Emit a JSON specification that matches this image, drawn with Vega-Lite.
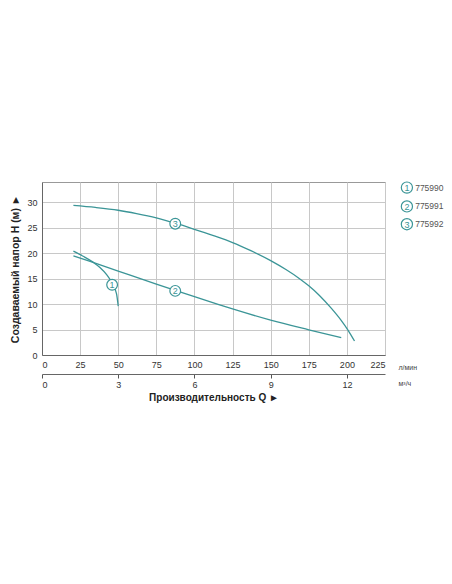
{
  "$schema": "https://vega.github.io/schema/vega-lite/v6.json",
  "padding": {"left": 10, "top": 179, "right": 0, "bottom": 0},
  "background": "white",
  "datasets": {
    "curves": [
      {"pump": "1", "q": 20.6, "H": 20.4},
      {"pump": "1", "q": 27, "H": 19.4},
      {"pump": "1", "q": 33.7, "H": 18.2},
      {"pump": "1", "q": 38, "H": 17.2},
      {"pump": "1", "q": 42.4, "H": 15.8},
      {"pump": "1", "q": 45.7, "H": 14.3},
      {"pump": "1", "q": 48.9, "H": 12.0},
      {"pump": "1", "q": 50, "H": 9.6},
      {"pump": "2", "q": 20.6, "H": 19.5},
      {"pump": "2", "q": 50, "H": 16.5},
      {"pump": "2", "q": 75, "H": 13.95},
      {"pump": "2", "q": 87.4, "H": 12.7},
      {"pump": "2", "q": 100, "H": 11.45},
      {"pump": "2", "q": 116, "H": 9.9},
      {"pump": "2", "q": 125, "H": 9.05},
      {"pump": "2", "q": 150, "H": 6.85},
      {"pump": "2", "q": 175, "H": 4.95},
      {"pump": "2", "q": 196.3, "H": 3.4},
      {"pump": "3", "q": 20.6, "H": 29.4},
      {"pump": "3", "q": 35, "H": 29.0},
      {"pump": "3", "q": 50, "H": 28.45},
      {"pump": "3", "q": 62, "H": 27.8},
      {"pump": "3", "q": 75, "H": 26.95},
      {"pump": "3", "q": 87.4, "H": 25.9},
      {"pump": "3", "q": 100, "H": 24.7},
      {"pump": "3", "q": 112, "H": 23.5},
      {"pump": "3", "q": 125, "H": 22.1},
      {"pump": "3", "q": 137, "H": 20.5},
      {"pump": "3", "q": 150, "H": 18.55},
      {"pump": "3", "q": 160, "H": 16.8},
      {"pump": "3", "q": 168.5, "H": 15.1},
      {"pump": "3", "q": 175, "H": 13.6},
      {"pump": "3", "q": 182, "H": 11.7},
      {"pump": "3", "q": 190, "H": 9.1},
      {"pump": "3", "q": 196, "H": 6.9},
      {"pump": "3", "q": 200.7, "H": 4.9},
      {"pump": "3", "q": 205, "H": 2.75}
    ],
    "tags": [
      {"pump": "1", "q": 46, "H": 13.8},
      {"pump": "2", "q": 87.4, "H": 12.6},
      {"pump": "3", "q": 87.4, "H": 25.8}
    ],
    "legend": [
      {"pump": "1", "code": "775990", "H": 32.9},
      {"pump": "2", "code": "775991", "H": 29.2},
      {"pump": "3", "code": "775992", "H": 25.7}
    ]
  },
  "bounds": "flush",
  "spacing": 12,
  "hconcat": [
    {
      "width": 343,
      "height": 173,
      "encoding": {
        "y": {
          "field": "H", "type": "quantitative",
          "scale": {"domain": [0, 34], "nice": false},
          "axis": {
            "values": [0, 5, 10, 15, 20, 25, 30],
            "grid": true, "gridColor": "#c8c8c8", "ticks": false,
            "domainColor": "#666", "labelPadding": 5, "labelOverlap": false,
            "title": "Создаваемый напор H (м) ►",
            "titleFontSize": 10.5, "titleFontWeight": "bold", "titleColor": "#222",
            "titlePadding": 6
          }
        }
      },
      "layer": [
        {
          "data": {"name": "curves"},
          "mark": {"type": "line", "color": "#3b9597", "strokeWidth": 1.3, "interpolate": "monotone"},
          "encoding": {
            "x": {
              "field": "q", "type": "quantitative",
              "scale": {"domain": [0, 225], "nice": false},
              "axis": {
                "values": [0, 25, 50, 75, 100, 125, 150, 175, 200, 225],
                "grid": true, "gridColor": "#c8c8c8", "ticks": false,
                "domainColor": "#666", "labelPadding": 5, "labelOverlap": false,
                "title": "л/мин", "titleX": 356, "titleY": 12,
                "titleAlign": "left", "titleBaseline": "middle",
                "titleFontSize": 7, "titleFontWeight": "normal", "titleColor": "#444"
              }
            },
            "detail": {"field": "pump"}
          }
        },
        {
          "data": {"name": "curves"},
          "mark": {"type": "point", "opacity": 0},
          "encoding": {
            "x": {
              "field": "q", "type": "quantitative",
              "axis": {
                "orient": "bottom", "offset": 19,
                "values": [0, 50, 100, 150, 200],
                "labelExpr": "format(datum.value * 0.06, 'd')",
                "grid": false, "ticks": true, "tickSize": 4, "tickColor": "#555",
                "domainColor": "#666", "labelPadding": 2, "labelOverlap": false,
                "title": "Производительность Q ►",
                "titleFontSize": 10, "titleFontWeight": "bold", "titleColor": "#222",
                "titlePadding": 3
              }
            }
          }
        },
        {
          "data": {"name": "curves"},
          "mark": {"type": "point", "opacity": 0},
          "encoding": {
            "x": {
              "field": "q", "type": "quantitative",
              "axis": {
                "orient": "bottom", "offset": 19,
                "domain": false, "ticks": false, "labels": false, "grid": false,
                "title": "м³/ч", "titleX": 356, "titleY": 9,
                "titleAlign": "left", "titleBaseline": "middle",
                "titleFontSize": 7, "titleFontWeight": "normal", "titleColor": "#444"
              }
            }
          }
        },
        {
          "data": {"name": "tags"},
          "mark": {"type": "point", "shape": "circle", "filled": true, "fill": "white", "stroke": "#3b9597", "strokeWidth": 1.2, "size": 115, "opacity": 1},
          "encoding": {
            "x": {"field": "q", "type": "quantitative", "axis": null}
          }
        },
        {
          "data": {"name": "tags"},
          "mark": {"type": "text", "color": "#3b9597", "fontSize": 9, "baseline": "middle", "align": "center", "dy": 0.5},
          "encoding": {
            "x": {"field": "q", "type": "quantitative", "axis": null},
            "text": {"field": "pump"}
          }
        }
      ],
      "resolve": {"axis": {"x": "independent"}}
    },
    {
      "width": 55,
      "height": 173,
      "view": {"stroke": null},
      "data": {"name": "legend"},
      "encoding": {
        "y": {"field": "H", "type": "quantitative", "scale": {"domain": [0, 34], "nice": false}, "axis": null}
      },
      "layer": [
        {
          "mark": {"type": "point", "shape": "circle", "filled": true, "fill": "white", "stroke": "#3b9597", "strokeWidth": 1.2, "size": 125, "opacity": 1},
          "encoding": {
            "x": {"datum": 1.8, "type": "quantitative", "scale": {"domain": [0, 10], "nice": false}, "axis": null}
          }
        },
        {
          "mark": {"type": "text", "color": "#3b9597", "fontSize": 9, "baseline": "middle", "align": "center", "dy": 0.5},
          "encoding": {
            "x": {"datum": 1.8, "type": "quantitative"},
            "text": {"field": "pump"}
          }
        },
        {
          "mark": {"type": "text", "color": "#555", "fontSize": 8.5, "baseline": "middle", "align": "left"},
          "encoding": {
            "x": {"datum": 3.3, "type": "quantitative"},
            "text": {"field": "code"}
          }
        }
      ]
    }
  ],
  "config": {
    "font": "Liberation Sans",
    "view": {"stroke": "#999"},
    "axis": {"labelFontSize": 9, "labelColor": "#333", "labelFont": "Liberation Sans", "titleFont": "Liberation Sans"}
  }
}
